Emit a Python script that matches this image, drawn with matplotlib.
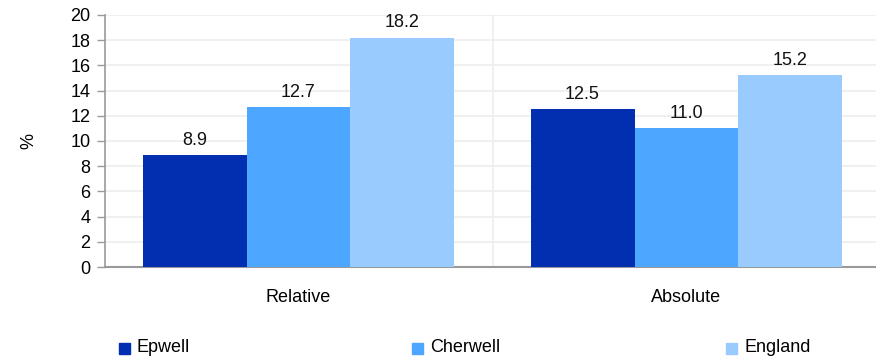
import numpy as np
import matplotlib.pyplot as plt

plt.rcParams['font.family'] = ['Liberation Sans', 'DejaVu Sans']

categories = ["Relative", "Absolute"]
series = ["Epwell", "Cherwell", "England"]
epwell = [8.9, 12.5]
cherwell = [12.7, 11.0]
england = [18.2, 15.2]
colors = ["#022eb0", "#4da6ff", "#99cbff"]
yticks = list(range(0, 21, 2))

fs = 13

fig = plt.figure(figsize=(8.76, 3.6), dpi=100)
ax = fig.add_axes([104.5 / 876, 93 / 360, 776 / 876, 252 / 360])

x = np.arange(len(categories))
w = 0.268
for i, (name, vals, c) in enumerate(zip(series, [epwell, cherwell, england], colors)):
    bars = ax.bar(x + (i - 1) * w, vals, w, color=c, label=name, zorder=3)
    for b, v in zip(bars, vals):
        ax.text(b.get_x() + b.get_width() / 2, v + 0.5, f"{v:.1f}",
                ha="center", va="bottom", fontsize=fs, color="#111111")

ax.set_xlim(-0.5, 1.5)
ax.set_ylim(0, 20)
ax.set_yticks(yticks)
ax.set_xticks(x)
ax.set_xticklabels(categories, fontsize=fs)
ax.tick_params(axis="y", labelsize=fs, length=6, color="#999999", width=1, pad=4)
ax.tick_params(axis="x", length=0, pad=16)
ax.yaxis.grid(True, color="#eeeeee", linewidth=1.2, zorder=0)
ax.axvline(0.5, color="#eeeeee", linewidth=1.2, zorder=0)
for s in ["top", "right"]:
    ax.spines[s].set_visible(False)
ax.spines["left"].set_color("#999999")
ax.spines["bottom"].set_color("#999999")
ax.spines["left"].set_linewidth(1.2)
ax.spines["bottom"].set_linewidth(1.5)
ax.set_ylabel("%", fontsize=fs, labelpad=24)

# legend drawn by hand along the bottom
leg_x = [119, 412, 726]
for name, c, lx in zip(series, colors, leg_x):
    fig.patches.append(plt.Rectangle((lx / 876, (360 - 354) / 360), 11 / 876, 11 / 360,
                                     transform=fig.transFigure, color=c))
    fig.text((lx + 18) / 876, (360 - 348) / 360, name, fontsize=fs, va="center")

fig.savefig("out.png", dpi=100)
